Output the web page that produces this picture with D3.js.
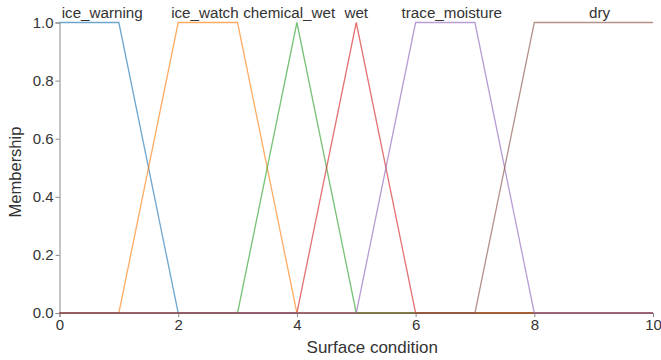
<!DOCTYPE html>
<html>
<head>
<meta charset="utf-8">
<script src="https://cdn.jsdelivr.net/npm/d3@7"></script>
<style>
  body { margin: 0; background: #fff; }
  svg { font-family: "Liberation Sans", Arial, sans-serif; }
  .axis text { fill: #333; font-size: 15px; }
  .axis path, .axis line { stroke: #888; }
</style>
</head>
<body>
<svg id="chart"></svg>
<script>
// membership sets: breakpoints (x) and values (y)
const names = ['ice_warning', 'ice_watch', 'chemical_wet', 'wet', 'trace_moisture', 'dry'];
const setX = [
  [0, 1, 2, 10],
  [0, 1, 2, 3, 4, 10],
  [0, 3, 4, 5, 10],
  [0, 4, 5, 6, 10],
  [0, 5, 6, 7, 8, 10],
  [0, 7, 8, 10]
];
const setY = [
  [1, 1, 0, 0],
  [0, 0, 1, 1, 0, 0],
  [0, 0, 1, 0, 0],
  [0, 0, 1, 0, 0],
  [0, 0, 1, 1, 0, 0],
  [0, 0, 1, 1]
];
const labelX = [0.72, 2.45, 3.87, 5.0, 6.61, 9.1];
const xTicks = [0, 2, 4, 6, 8, 10];
const yTicks = [0, 0.2, 0.4, 0.6, 0.8, 1.0];

const width = 661, height = 360;
const margin = { top: 22.5, right: 8, bottom: 47, left: 59.5 };

const svg = d3.select('#chart').attr('width', width).attr('height', height);

const x = d3.scaleLinear().domain([0, 10]).range([margin.left, width - margin.right]);
const y = d3.scaleLinear().domain([0, 1]).range([height - margin.bottom, margin.top]);
const color = d3.scaleOrdinal(d3.schemeCategory10);

svg.append('g')
  .attr('class', 'axis')
  .attr('transform', `translate(0,${height - margin.bottom})`)
  .call(d3.axisBottom(x).tickValues(xTicks).tickSize(4).tickPadding(2).tickFormat(d3.format('d')));

svg.append('g')
  .attr('class', 'axis')
  .attr('transform', `translate(${margin.left},0)`)
  .call(d3.axisLeft(y).tickValues(yTicks).tickSize(4).tickPadding(2).tickFormat(d3.format('.1f')));

const line = d3.line().x(d => x(d[0])).y(d => y(d[1]));

names.forEach((name, i) => {
  const pts = setX[i].map((v, j) => [v, setY[i][j]]);
  svg.append('path')
    .datum(pts)
    .attr('fill', 'none')
    .attr('stroke', color(i))
    .attr('stroke-opacity', 0.65)
    .attr('stroke-width', 1.3)
    .attr('d', line);

  svg.append('text')
    .attr('x', x(labelX[i]))
    .attr('y', margin.top - 4.5)
    .attr('text-anchor', 'middle')
    .attr('fill', '#333')
    .attr('font-size', 15.2)
    .text(name);
});

svg.append('text')
  .attr('x', x(5.27))
  .attr('y', height - 7)
  .attr('text-anchor', 'middle')
  .attr('fill', '#333')
  .attr('font-size', 17)
  .text('Surface condition');

svg.append('text')
  .attr('transform', `translate(21,172) rotate(-90)`)
  .attr('text-anchor', 'middle')
  .attr('fill', '#333')
  .attr('font-size', 16.5)
  .text('Membership');
</script>
</body>
</html>
